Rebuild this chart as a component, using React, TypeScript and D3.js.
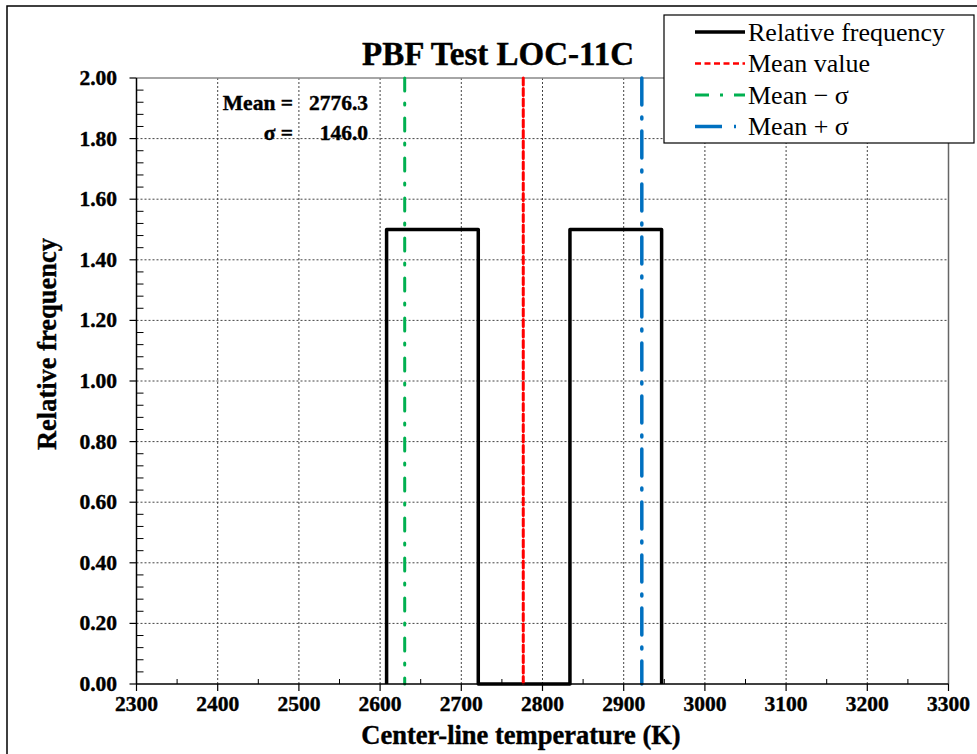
import React from 'react'
import * as d3 from 'd3'

// histogram of center-line temperature
const binEdges = [2608.0, 2720.9, 2833.8, 2946.7]
const freqs = [1.5, 0, 1.5]
const meanValue = 2776.3
const sigma = 146.0
const xTicks = [2300, 2400, 2500, 2600, 2700, 2800, 2900, 3000, 3100, 3200, 3300]
const yTicks = [0, 0.2, 0.4, 0.6, 0.8, 1.0, 1.2, 1.4, 1.6, 1.8, 2.0]
const legendLabels = ['Relative frequency', 'Mean value', 'Mean \u2212 \u03c3', 'Mean + \u03c3']

const W = 977
const H = 754
const font = '"Liberation Serif", "Times New Roman", serif'

function App() {
    const left = 136.5, right = 948.5, top = 78, bottom = 684
    const x = d3.scaleLinear().domain([2300, 3300]).range([left, right])
    const y = d3.scaleLinear().domain([0, 2]).range([bottom, top])

    const xMinor = d3.range(2350, 3300, 100)
    const yMinor = d3.range(0, 2.0001, 0.04).filter(v => Math.abs(v * 5 - Math.round(v * 5)) > 1e-6)

    // step outline of the histogram
    const pts: [number, number][] = [[binEdges[0], 0]]
    freqs.forEach((f, i) => {
        pts.push([binEdges[i], f])
        pts.push([binEdges[i + 1], f])
    })
    pts.push([binEdges[binEdges.length - 1], 0])
    const line = d3.line<[number, number]>().x(d => x(d[0])).y(d => y(d[1]))

    const vlines = [
        { v: meanValue, color: '#FF0000', dash: '7,3.5', w: 3 },
        { v: meanValue - sigma, color: '#00B050', dash: '13,12,2,13', w: 3 },
        { v: meanValue + sigma, color: '#0070C0', dash: '27,12,2,12', w: 3.5 },
    ]
    const legendStyles = [
        { color: '#000', dash: null, w: 3.5 },
        { color: '#FF0000', dash: '6,3.5', w: 2.5 },
        { color: '#00B050', dash: '14,11,3,11', w: 3 },
        { color: '#0070C0', dash: '27,12,2,12', w: 3.5 },
    ]
    // heavy bold look of the original text
    const heavy = { fontWeight: 'bold', stroke: '#000', strokeWidth: 0.4 } as const

    return (
        <svg width={W} height={H} style={{ position: 'absolute', left: 0, top: 0, background: '#fff' }} fontFamily={font}>
            <rect x={7} y={6} width={1000} height={1000} fill="#fff" stroke="#000" strokeWidth={1.5} />

            {/* grid */}
            {xTicks.slice(1, -1).map(t => (
                <line key={'gx' + t} x1={x(t)} x2={x(t)} y1={top} y2={bottom} stroke="#444" strokeWidth={1} strokeDasharray="2,2" />
            ))}
            {yTicks.slice(1, -1).map(t => (
                <line key={'gy' + t} x1={left} x2={right} y1={y(t)} y2={y(t)} stroke="#444" strokeWidth={1} strokeDasharray="2,2" />
            ))}
            <line x1={left} x2={right} y1={top} y2={top} stroke="#888" strokeWidth={1.5} />
            <line x1={right} x2={right} y1={top} y2={bottom} stroke="#666" strokeWidth={1.5} />

            {/* histogram */}
            <path d={line(pts) || ''} fill="none" stroke="#000" strokeWidth={3.5} strokeLinejoin="round" />

            {/* mean lines */}
            {vlines.map((l, i) => (
                <line key={'v' + i} x1={x(l.v)} x2={x(l.v)} y1={top} y2={bottom} stroke={l.color}
                    strokeWidth={l.w} strokeDasharray={l.dash} strokeLinecap="round" />
            ))}

            {/* axes */}
            <line x1={left} x2={right} y1={bottom} y2={bottom} stroke="#000" strokeWidth={1.5} />
            <line x1={left} x2={left} y1={top} y2={bottom} stroke="#000" strokeWidth={1.5} />
            {xTicks.map(t => (
                <g key={'xt' + t}>
                    <line x1={x(t)} x2={x(t)} y1={bottom} y2={bottom + 7} stroke="#000" strokeWidth={1.2} />
                    <text x={x(t)} y={bottom + 27} textAnchor="middle" fontSize={21.5} {...heavy}>{t}</text>
                </g>
            ))}
            {xMinor.map(t => (
                <line key={'xm' + t} x1={x(t)} x2={x(t)} y1={bottom} y2={bottom - 5} stroke="#000" strokeWidth={1} />
            ))}
            {yTicks.map(t => (
                <g key={'yt' + t}>
                    <line x1={left - 7} x2={left} y1={y(t)} y2={y(t)} stroke="#000" strokeWidth={1.2} />
                    <text x={117} y={y(t) + 7} textAnchor="end" fontSize={21.5} {...heavy}>{t.toFixed(2)}</text>
                </g>
            ))}
            {yMinor.map(t => (
                <line key={'ym' + t} x1={left} x2={left + 7} y1={y(t)} y2={y(t)} stroke="#000" strokeWidth={1} />
            ))}

            {/* titles */}
            <text x={498} y={65} textAnchor="middle" fontSize={33} {...heavy}>PBF Test LOC-11C</text>
            <text x={521} y={744} textAnchor="middle" fontSize={26.5} {...heavy}>Center-line temperature (K)</text>
            <text transform={`translate(56,344) rotate(-90)`} textAnchor="middle" fontSize={26.5} {...heavy}>Relative frequency</text>

            {/* stats annotation */}
            <text x={293} y={110} textAnchor="end" fontSize={21.5} {...heavy}>Mean =</text>
            <text x={368} y={110} textAnchor="end" fontSize={21.5} {...heavy}>{meanValue.toFixed(1)}</text>
            <text x={293} y={140} textAnchor="end" fontSize={21.5} {...heavy}>{'\u03c3 ='}</text>
            <text x={368} y={140} textAnchor="end" fontSize={21.5} {...heavy}>{sigma.toFixed(1)}</text>

            {/* legend */}
            <rect x={664} y={15} width={310} height={128} fill="#fff" stroke="#000" strokeWidth={1.2} />
            {legendLabels.map((lab, i) => {
                const ly = 32 + i * 31.5
                const s = legendStyles[i]
                return (
                    <g key={lab}>
                        <line x1={695} x2={745} y1={ly} y2={ly} stroke={s.color} strokeWidth={s.w}
                            strokeDasharray={s.dash || undefined} />
                        <text x={748} y={ly + 8.5} fontSize={26}>{lab}</text>
                    </g>
                )
            })}
        </svg>
    )
}

export default App
